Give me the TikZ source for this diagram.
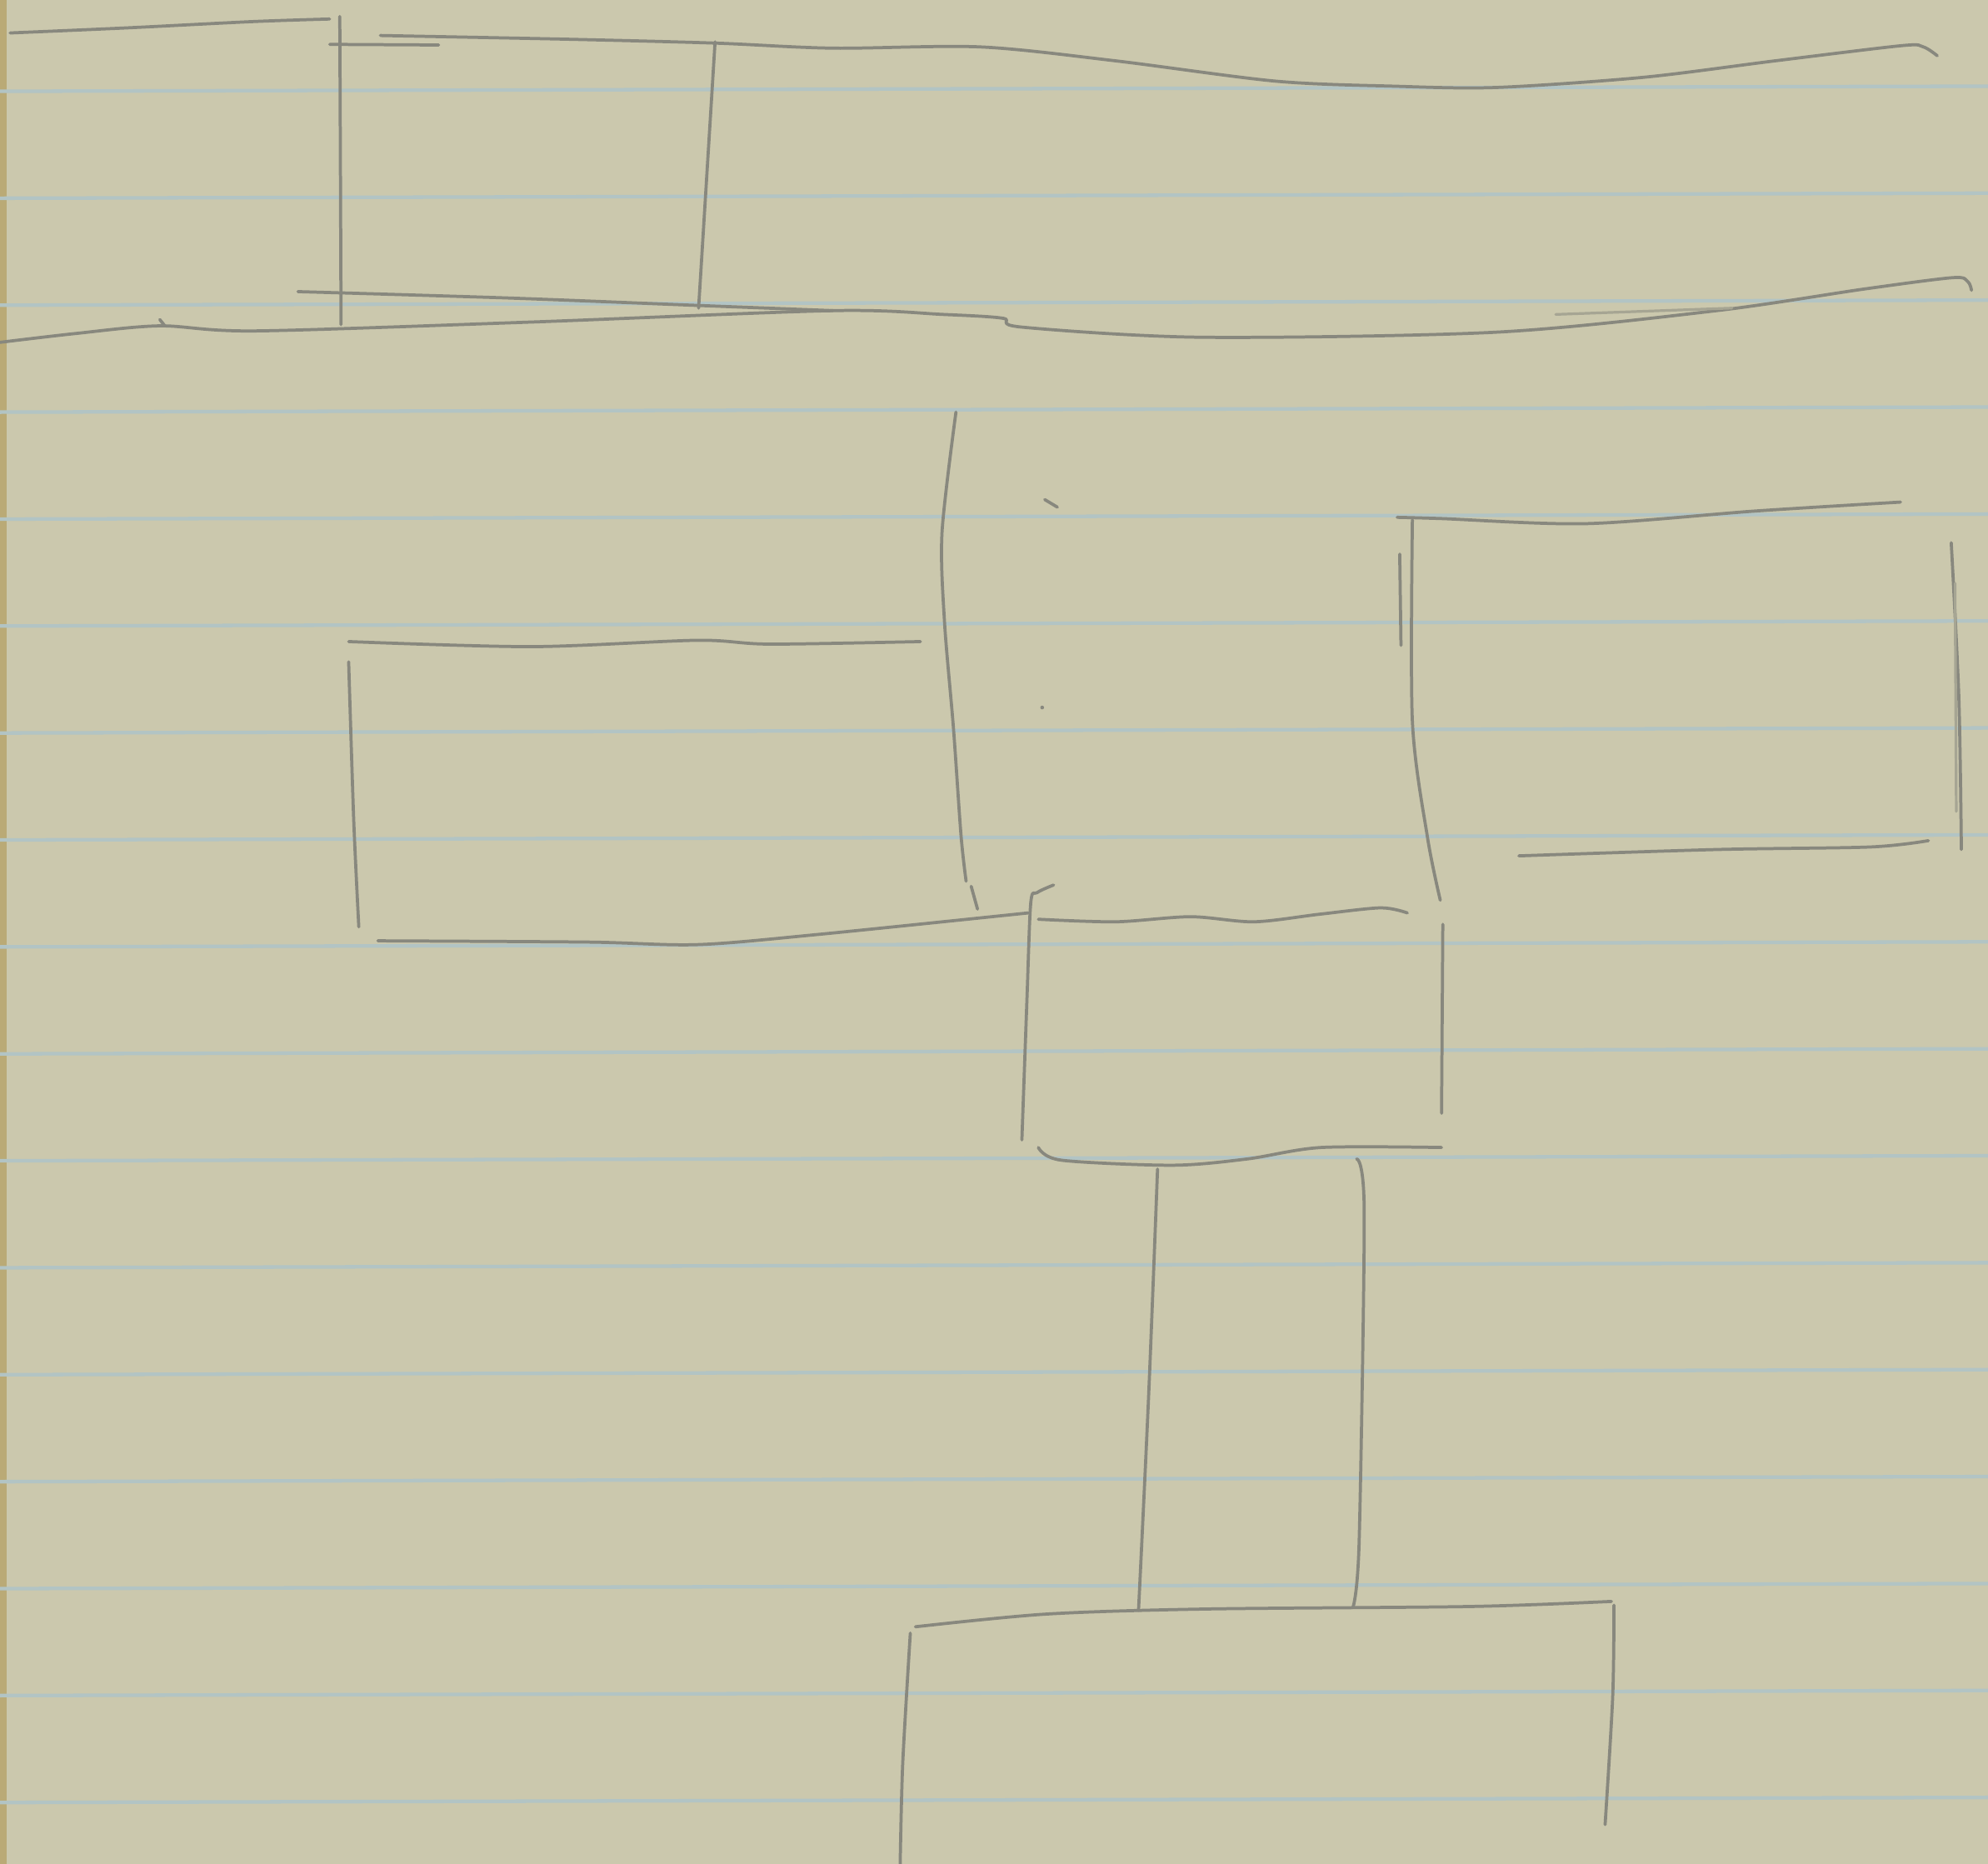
\documentclass[tikz,border=0pt]{standalone}
\definecolor{paperc}{RGB}{203,200,173}
\definecolor{edgec}{RGB}{186,170,118}
\definecolor{rulec}{RGB}{178,196,196}
\definecolor{pencilc}{RGB}{136,136,126}
\tikzset{
  pencil/.style={draw=pencilc, line width=0.7pt, line cap=round, line join=round},
  faint/.style={draw=pencilc!55!paperc, line width=0.6pt, line cap=round},
  ruleline/.style={draw=rulec, line width=0.8pt},
}
\begin{document}
\begin{tikzpicture}[x=0.01cm,y=-0.01cm]
\useasboundingbox (0,0) rectangle (1568,1470);
\fill[paperc] (0,0) rectangle (1568,1470);
\fill[edgec] (0,0) rectangle (5,1470);
% ruled lines
\foreach \k in {0,...,16}{
  \pgfmathsetmacro{\yy}{70+84.35*\k}
  \draw[ruleline] (0,\yy+2) -- (1568,\yy-2);
}
% top band
\draw[pencil] plot[smooth] coordinates {(8,26)(100,22)(200,17)(260,15)};
\draw[pencil] (268,13) -- (268.5,130) -- (269,256);
\draw[pencil] (260,35) -- (346,35.5);
\draw[pencil] plot[smooth] coordinates {(300,28)(450,31)(564,34)(657,38)(773,37)(880,48)(1006,64)(1100,68)(1180,69)(1296,61)(1400,48)(1500,36)(1517,37)(1528,44)};
\draw[pencil] (564,33) -- (551,243);
\draw[pencil] plot[smooth] coordinates {(235,230)(400,235)(553,241)(657,245)};
\draw[pencil] plot[smooth] coordinates {(0,270)(60,263)(126,257)(201,261)(419,254)(657,245)(744,248)(791,251)(806,258)(948,266)(1180,262)(1354,245)(1470,228)(1540,219)(1552,222)(1555,229)};
\draw[pencil] (126,252) -- (130,257);
\draw[faint] (1227,248) -- (1366,243);
% long vertical
\draw[pencil] plot[smooth] coordinates {(754,325)(743,420)(745,491)(752,574)(758,659)(762,695)};
\draw[pencil] (766,699) -- (771,717);
% left box
\draw[pencil] plot[smooth] coordinates {(275,506)(419,510)(550,505)(607,508)(726,506)};
\draw[pencil] plot[smooth] coordinates {(275,522)(279,647)(283,731)};
\draw[pencil] plot[smooth] coordinates {(298,742)(464,743)(550,745)(645,737)(811,720)};
% right box
\draw[pencil] plot[smooth] coordinates {(1102,408)(1137,409)(1251,413)(1385,403)(1499,396)};
\draw[pencil] plot[smooth] coordinates {(1114,410)(1114,569)(1126,661)(1136,710)};
\draw[pencil] (1104,437) -- (1105,509);
\draw[pencil] plot[smooth] coordinates {(1539,428)(1545,550)(1547,670)};
\draw[faint] (1542,460) -- (1543,640);
\draw[pencil] plot[smooth] coordinates {(1198,675)(1354,670)(1475,668)(1521,663)};
% marks
\draw[pencil] (824,394) -- (834,400);
\fill[pencilc] (822,558) circle (1.5);
% middle box
\draw[pencil] plot[smooth] coordinates {(831,698)(818,704)(813,712)(810,788)(806,899)};
\draw[pencil] plot[smooth] coordinates {(819,725)(880,727)(939,723)(989,727)(1041,721)(1089,716)(1110,720)};
\draw[pencil] (1138,729) -- (1137,878);
\draw[pencil] plot[smooth] coordinates {(819,905)(837,915)(925,919)(984,914)(1042,905)(1137,905)};
% connectors
\draw[pencil] plot[smooth] coordinates {(913,922)(906,1100)(898,1270)};
\draw[pencil] plot[smooth] coordinates {(1070,914)(1076,955)(1072,1216)(1067,1268)};
% bottom box
\draw[pencil] plot[smooth] coordinates {(722,1283)(825,1273)(950,1269)(1160,1267)(1271,1263)};
\draw[pencil] plot[smooth] coordinates {(718,1288)(712,1391)(710,1470)};
\draw[pencil] plot[smooth] coordinates {(1273,1266)(1272,1338)(1266,1439)};
\end{tikzpicture}
\end{document}
